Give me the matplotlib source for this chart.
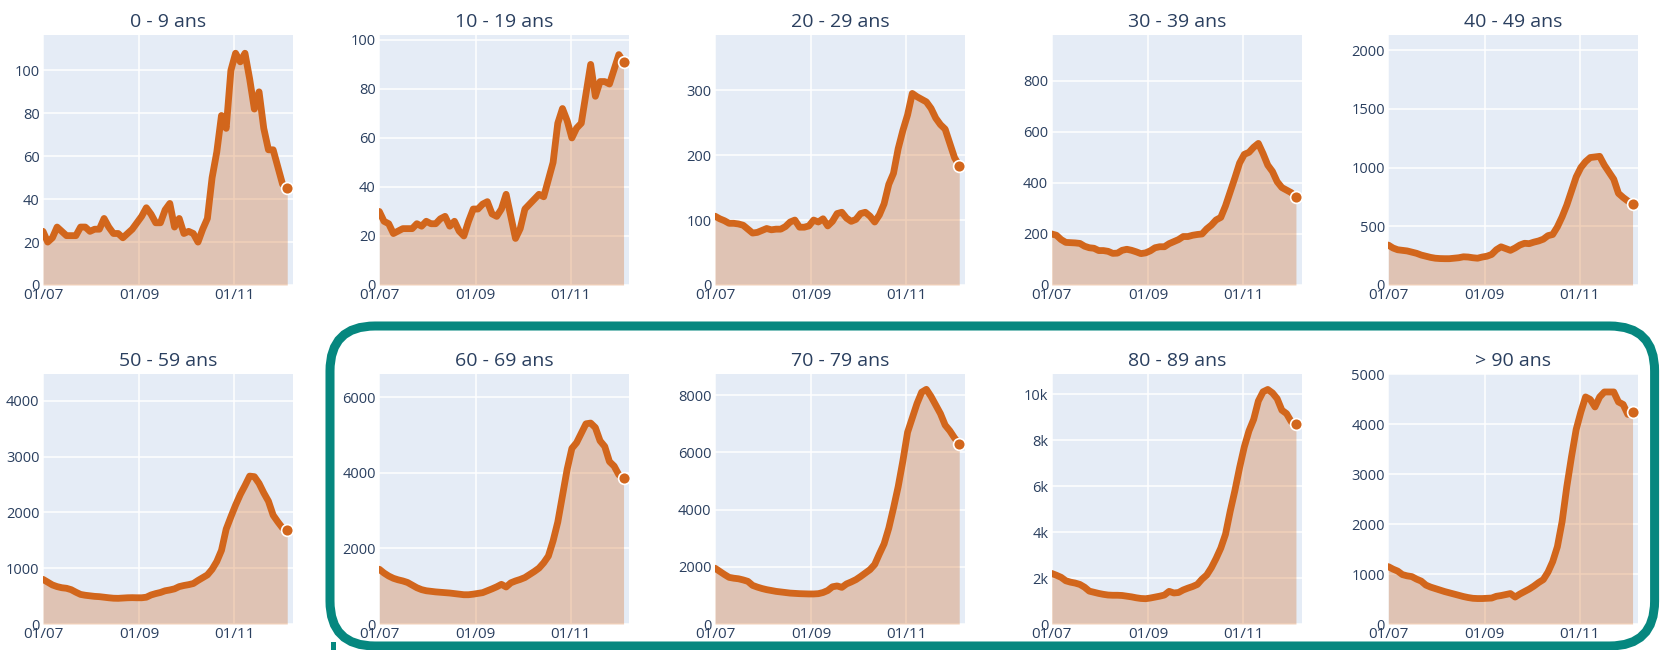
import matplotlib
matplotlib.use("Agg")
import matplotlib.pyplot as plt
from matplotlib.patches import FancyBboxPatch, Rectangle
from matplotlib.transforms import IdentityTransform
import pandas as pd

plt.rcParams['font.family'] = ['Open Sans', 'DejaVu Sans']

# Daily series sampled every ~3 days from 1 July to 5 December 2020
dates = pd.date_range("2020-07-01", "2020-12-05", periods=53)

titles = ["0 - 9 ans", "10 - 19 ans", "20 - 29 ans", "30 - 39 ans", "40 - 49 ans",
          "50 - 59 ans", "60 - 69 ans", "70 - 79 ans", "80 - 89 ans", "> 90 ans"]

v_0_9 = [25, 20, 22, 27, 25, 23, 23, 23, 27, 27, 25, 26, 26, 31, 27, 24, 24, 22, 24, 26,
         29, 32, 36, 33, 29, 29, 35, 38, 27, 31, 24, 25, 24, 20, 26, 31, 50, 62, 79, 73,
         100, 108, 104, 108, 96, 82, 90, 73, 63, 63, 55, 47, 45]
v_10_19 = [30, 26, 25, 21, 22, 23, 23, 23, 25, 24, 26, 25, 25, 27, 28, 24, 26, 22, 20, 26,
           31, 31, 33, 34, 29, 28, 31, 37, 28, 19, 23, 31, 33, 35, 37, 36, 43, 50, 66, 72,
           67, 60, 64, 66, 78, 90, 77, 83, 83, 82, 88, 94, 91]
v_20_29 = [106, 102, 99, 95, 95, 94, 92, 86, 80, 81, 84, 87, 85, 86, 86, 90, 97, 100, 89, 89,
           91, 100, 97, 102, 91, 98, 110, 112, 103, 98, 101, 110, 112, 106, 97, 108, 125, 155, 172, 210,
           238, 262, 295, 290, 286, 282, 272, 257, 247, 240, 218, 196, 184]
v_30_39 = [200, 195, 178, 167, 166, 165, 163, 152, 146, 144, 135, 135, 132, 124, 125, 136, 140, 136, 130, 123,
           126, 134, 146, 150, 150, 162, 170, 178, 190, 190, 195, 198, 200, 220, 235, 255, 265, 310, 365, 420,
           478, 512, 520, 540, 555, 515, 470, 445, 405, 382, 372, 362, 344]
v_40_49 = [340, 315, 300, 295, 290, 280, 270, 255, 245, 235, 228, 225, 224, 224, 228, 232, 240, 238, 232, 228,
           238, 245, 260, 300, 325, 310, 295, 315, 340, 355, 352, 365, 375, 390, 420, 430, 495, 580, 680, 800,
           920, 1000, 1050, 1085, 1090, 1095, 1020, 960, 900, 780, 745, 715, 690]
v_50_59 = [800, 750, 700, 670, 650, 640, 615, 570, 530, 515, 505, 495, 490, 480, 470, 462, 460, 465, 470, 472,
           470, 470, 480, 520, 545, 565, 595, 610, 630, 670, 690, 705, 725, 780, 830, 880, 980, 1120, 1320, 1700,
           1920, 2130, 2320, 2480, 2650, 2640, 2520, 2350, 2200, 1950, 1830, 1720, 1680]
v_60_69 = [1450, 1350, 1270, 1210, 1170, 1140, 1100, 1030, 960, 910, 880, 865, 850, 840, 830, 820, 805, 790, 775, 775,
           790, 810, 830, 880, 930, 985, 1050, 980, 1090, 1140, 1180, 1230, 1310, 1390, 1480, 1620, 1800, 2200, 2700, 3400,
           4100, 4650, 4800, 5050, 5300, 5320, 5200, 4850, 4700, 4300, 4180, 3950, 3860]
v_70_79 = [1950, 1840, 1730, 1630, 1600, 1580, 1540, 1490, 1350, 1290, 1240, 1200, 1170, 1140, 1120, 1100, 1080, 1070, 1060, 1055,
           1050, 1050, 1060, 1100, 1170, 1300, 1330, 1280, 1400, 1470, 1550, 1660, 1780, 1900, 2080, 2450, 2800, 3350, 4050, 4800,
           5700, 6700, 7200, 7700, 8100, 8200, 7950, 7650, 7350, 6950, 6750, 6500, 6300]
v_80_89 = [2200, 2120, 2030, 1880, 1820, 1780, 1720, 1600, 1430, 1380, 1330, 1290, 1260, 1250, 1250, 1240, 1210, 1180, 1140, 1110,
           1100, 1130, 1170, 1210, 1260, 1420, 1350, 1370, 1480, 1560, 1630, 1720, 1950, 2130, 2450, 2850, 3300, 3900, 4900, 5800,
           6800, 7700, 8400, 8900, 9700, 10100, 10200, 10050, 9800, 9300, 9150, 8800, 8700]
v_90_plus = [1150, 1100, 1060, 990, 965, 950, 900, 860, 780, 740, 710, 680, 650, 625, 600, 575, 550, 530, 515, 510,
             510, 515, 520, 555, 570, 590, 610, 540, 600, 650, 700, 760, 830, 890, 1040, 1250, 1550, 2050, 2750, 3350,
             3900, 4250, 4550, 4500, 4350, 4550, 4650, 4650, 4650, 4450, 4400, 4200, 4240]

series = [v_0_9, v_10_19, v_20_29, v_30_39, v_40_49,
          v_50_59, v_60_69, v_70_79, v_80_89, v_90_plus]

y_max = [116.5, 102, 385, 980, 2128, 4480, 6619, 8736, 10873, 5010]
y_ticks = [[0, 20, 40, 60, 80, 100],
           [0, 20, 40, 60, 80, 100],
           [0, 100, 200, 300],
           [0, 200, 400, 600, 800],
           [0, 500, 1000, 1500, 2000],
           [0, 1000, 2000, 3000, 4000],
           [0, 2000, 4000, 6000],
           [0, 2000, 4000, 6000, 8000],
           [0, 2000, 4000, 6000, 8000, 10000],
           [0, 1000, 2000, 3000, 4000, 5000]]
y_tick_labels = [[str(t) for t in ticks] for ticks in y_ticks]
y_tick_labels[8] = ["0", "2k", "4k", "6k", "8k", "10k"]

x_ticks = pd.to_datetime(["2020-07-01", "2020-09-01", "2020-11-01"])
x_tick_labels = ["01/07", "01/09", "01/11"]

LINE = "#D2661C"
BG = "#E5ECF6"
TEXT = "#2A3F5F"
TEAL = "#06877F"

W, H = 1662, 650
fig = plt.figure(figsize=(W / 100, H / 100), dpi=100)
fig.patch.set_facecolor("white")

col_left = [43, 379.3, 715, 1051.7, 1388.3]
row_top = [35, 374]
pw, ph = 250, 250
x_end = dates[0] + pd.Timedelta(days=160.7)

for i, (title, vals) in enumerate(zip(titles, series)):
    r, c = divmod(i, 5)
    ax = fig.add_axes([col_left[c] / W, (H - row_top[r] - ph) / H, pw / W, ph / H])
    ax.set_facecolor(BG)
    ax.fill_between(dates, 0, vals, color=LINE, alpha=0.3, lw=0, zorder=2)
    ax.plot(dates, vals, color=LINE, lw=4.9, solid_joinstyle="round",
            solid_capstyle="round", zorder=3)
    ax.plot(dates[-1:], vals[-1:], "o", color=LINE, ms=8.5, mec="white", mew=1.2,
            zorder=4, clip_on=False)
    ax.set_xlim(dates[0], x_end)
    ax.set_ylim(0, y_max[i])
    ax.set_xticks(x_ticks)
    ax.set_xticklabels(x_tick_labels)
    ax.set_yticks(y_ticks[i])
    ax.set_yticklabels(y_tick_labels[i])
    ax.grid(True, color="white", lw=1.1, zorder=1)
    ax.set_axisbelow(True)
    for s in ax.spines.values():
        s.set_visible(False)
    ax.tick_params(axis="both", length=0, labelcolor=TEXT)
    ax.tick_params(axis="y", pad=2.5, labelsize=10.5)
    ax.tick_params(axis="x", pad=2, labelsize=11)
    ax.set_title(title, fontsize=14, color=TEXT, pad=6)

# Highlight frame around the older age groups
frame = FancyBboxPatch((330, 4), 1654.6 - 330, 324 - 4,
                       boxstyle="round,pad=0,rounding_size=45",
                       transform=IdentityTransform(), fill=False,
                       ec=TEAL, lw=6.5, zorder=10)
fig.add_artist(frame)
fig.add_artist(Rectangle((331, 0), 5, 8, transform=IdentityTransform(),
                         color=TEAL, lw=0, zorder=10))

fig.savefig("out.png", dpi=100, facecolor="white")
